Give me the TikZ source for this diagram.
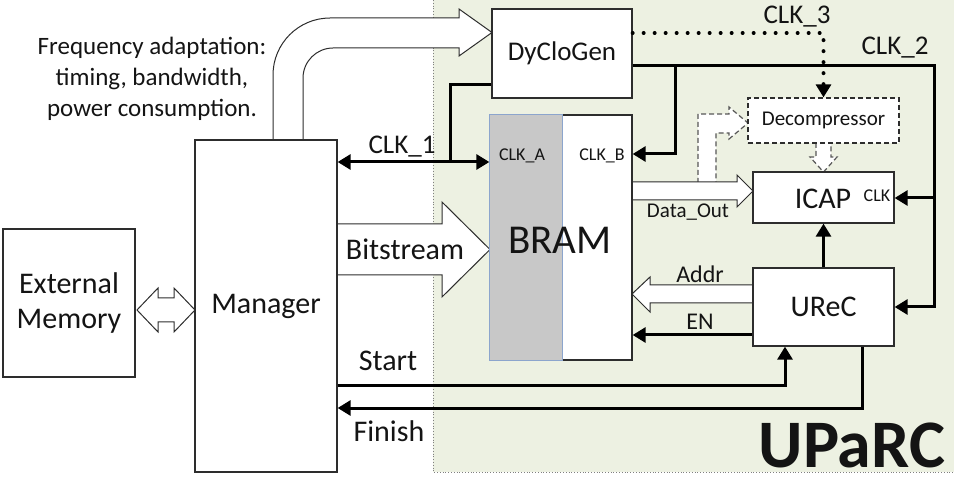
\documentclass[tikz,border=0pt]{standalone}
\usepackage{fontspec}
\setmainfont{Carlito}
\usetikzlibrary{arrows.meta}
\definecolor{bggreen}{RGB}{237,241,226}
\definecolor{bramgray}{RGB}{200,200,200}
\definecolor{bramblue}{RGB}{140,165,205}
\definecolor{boxline}{RGB}{45,45,45}
\definecolor{txt}{RGB}{20,20,20}
\newcommand\fszL{\fontsize{30}{35}\selectfont}
\newcommand\fszXL{\fontsize{41}{46}\selectfont}
\newcommand\fszM{\fontsize{27}{31}\selectfont}
\newcommand\fszS{\fontsize{24}{28}\selectfont}
\newcommand\fszD{\fontsize{21}{25}\selectfont}
\newcommand\fszT{\fontsize{18}{21}\selectfont}
\newcommand\fszU{\fontsize{68}{72}\selectfont\bfseries}
\newcommand\fszF{\fontsize{25}{31}\selectfont}
\tikzset{
  >={Triangle[length=13pt,width=15pt]},
  box/.style={draw=boxline, line width=1.3pt, fill=white, inner sep=0pt, text=txt},
  dashbox/.style={draw=boxline, line width=1.3pt, fill=white, inner sep=0pt, text=txt,
     dash pattern=on 5pt off 3pt},
  wire/.style={line width=3pt, draw=black},
  conn/.style={wire, ->},
  dotconn/.style={line width=4pt, line cap=round, dash pattern=on 0pt off 11pt, ->},
  hollow/.style={draw=boxline, line width=1pt, fill=white, line join=miter},
  hollowdash/.style={draw=boxline!80, line width=1.2pt, fill=white, dash pattern=on 5pt off 3pt},
  lbl/.style={inner sep=0pt, text=txt},
}
\begin{document}
\begin{tikzpicture}[x=1pt,y=-1pt]
\useasboundingbox (0,0) rectangle (954,481);
% UPaRC region
\fill[bggreen] (433,0) rectangle (954,472);
\draw[gray, dotted, line width=0.8pt] (433,0) -- (433,472) -- (954,472);

% hollow arrows
\filldraw[hollow] (273,140) -- (273,75) .. controls (273,43.5) and (298.5,18) .. (330,18)
  -- (459,18) -- (459,9) -- (492,32.5) -- (459,56) -- (459,48) -- (333,48)
  .. controls (316.6,48) and (303,61.4) .. (303,78) -- (303,140);
\filldraw[hollow] (337,224) -- (442,224) -- (442,202) -- (490,249.5) -- (442,297) -- (442,275) -- (337,275);
\filldraw[hollow] (137,310) -- (158,288) -- (158,298) -- (174,298) -- (174,288) -- (195,310)
  -- (174,332) -- (174,322) -- (158,322) -- (158,332) -- cycle;
\filldraw[hollowdash] (698,183) -- (698,114) -- (729,114) -- (729,107) -- (748,123) -- (729,139) -- (729,133) -- (716,133) -- (716,183);
\filldraw[hollow] (632,182) -- (737,182) -- (737,175) -- (753,191) -- (737,207) -- (737,200) -- (632,200);
\filldraw[hollowdash] (816,143) -- (816,157) -- (810,157) -- (823.5,172) -- (837,157) -- (831,157) -- (831,143);
\filldraw[hollow] (753,285) -- (650,285) -- (650,277) -- (632,294) -- (650,312) -- (650,303) -- (753,303);

% boxes
\node[box, minimum width=132pt, minimum height=148pt, align=center, font=\fszL] (ext) at (69,303) {External\\Memory};
\node[box, minimum width=142pt, minimum height=332pt, font=\fszL] (mgr) at (266,306) {Manager};
\node[box, minimum width=140pt, minimum height=89pt, font=\fszM] (dyc) at (562,53.5) {DyCloGen};
\node[box, minimum width=142pt, minimum height=245pt] (bram) at (561,237.5) {};
\filldraw[fill=bramgray, draw=bramblue, line width=1pt] (bram.north west) rectangle (562,360);
\node[lbl, font=\fszXL] (bramtxt) at (560,240) {BRAM};
\node[lbl, font=\fszT] (clka) at (522,156) {CLK\_A};
\node[lbl, font=\fszT] (clkb) at (602,156) {CLK\_B};
\node[dashbox, minimum width=151pt, minimum height=45pt, font=\fszD] (dec) at (823.5,120.5) {Decompressor};
\node[box, minimum width=141pt, minimum height=51pt] (icap) at (823.5,197.5) {};
\node[lbl, font=\fszL] (icaptxt) at (823,199) {ICAP};
\node[lbl, font=\fszT] (icapclk) at (877,196) {CLK};
\node[box, minimum width=141pt, minimum height=78pt, font=\fszL] (urec) at (823.5,307) {UReC};

% CLK_1
\coordinate (j1) at (450,162);
\coordinate (k1) at (450,85);
\draw[wire, <->] (mgr.east |- j1) -- (bram.west |- j1);
\draw[wire] (dyc.west |- k1) -- (k1) -- (j1);
% CLK_2
\coordinate (c2a) at (675,66);
\coordinate (c2b) at (934,66);
\coordinate (c2icap) at (934,198);
\coordinate (c2urec) at (934,307);
\coordinate (c2bram) at (675,154);
\draw[conn] (dyc.east |- c2a) -- (c2b) -- (c2urec) -- (urec.east);
\draw[conn] (c2icap) -- (icap.east |- c2icap);
\draw[conn] (c2a) -- (c2bram) -- (bram.east |- c2bram);
% CLK_3
\coordinate (c3) at (823.5,33);
\draw[dotconn] (dyc.east |- c3) -- (c3) -- (dec.north);
% UReC links
\coordinate (en) at (700,335);
\draw[conn] (urec.west |- en) -- (bram.east |- en);
\draw[conn] (urec.north) -- (icap.south);
\coordinate (st) at (785,385);
\draw[conn] (mgr.east |- st) -- (st) -- (urec.south -| st);
\coordinate (fi) at (862,408);
\draw[conn] (urec.south -| fi) -- (fi) -- (mgr.east |- fi);

% labels
\node[lbl, font=\fszF, align=center] (freq) at (152,79) {Frequency adaptation:\\timing, bandwidth,\\power consumption.};
\node[lbl, font=\fszM] (lclk1) at (402,147) {CLK\_1};
\node[lbl, font=\fszM] (lclk3) at (797,17) {CLK\_3};
\node[lbl, font=\fszM] (lclk2) at (895,48) {CLK\_2};
\node[lbl, font=\fszD] (ldata) at (688,212) {Data\_Out};
\node[lbl, font=\fszS] (laddr) at (700,274) {Addr};
\node[lbl, font=\fszS] (len) at (700,322) {EN};
\node[lbl, font=\fszL] (lstart) at (388,361) {Start};
\node[lbl, font=\fszL] (lfin) at (389,431) {Finish};
\node[lbl, font=\fszL] (lbit) at (405,249) {Bitstream};
\node[lbl, font=\fszU] (luparc) at (852,445) {UPaRC};
\end{tikzpicture}
\end{document}
